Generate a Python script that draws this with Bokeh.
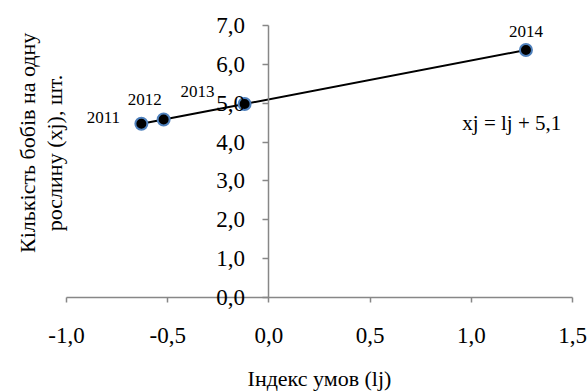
import math
from bokeh.plotting import figure
from bokeh.models import (ColumnDataSource, LabelSet, Label, FixedTicker,
                          CustomJSTickFormatter, Range1d)
from bokeh.embed import file_html
from bokeh.resources import INLINE

# ---- data ----
years = ["2011", "2012", "2013", "2014"]
lj = [-0.63, -0.52, -0.12, 1.27]      # Індекс умов
xj = [4.47, 4.58, 4.98, 6.37]         # Кількість бобів на одну рослину
x_ticks = [-1.0, -0.5, 0.0, 0.5, 1.0, 1.5]
y_ticks = [0, 1, 2, 3, 4, 5, 6, 7]
equation = "xj = lj + 5,1"
x_title = "Індекс умов (lj)"
y_title_lines = ["Кількість бобів на одну", "рослину (хj), шт."]

# label placement (pixels, relative to each point)
label_dx = [-38, -19, -47, 0]
label_dy = [6, 20, 12, 18]

FONT = "'Liberation Serif'"
AXIS_COLOR = "#878787"

# the plot frame covers the whole canvas so that no text is clipped;
# the visible axes are limited with "bounds"
p = figure(width=588, height=392, output_backend="svg", toolbar_location=None,
           x_range=Range1d(-1.326, 1.579), y_range=Range1d(-2.445, 7.643),
           min_border_left=0, min_border_right=0,
           min_border_top=0, min_border_bottom=0,
           background_fill_color="white", border_fill_color="white")
p.title.visible = False
p.grid.visible = False
p.outline_line_color = None

fmt = CustomJSTickFormatter(code="return tick.toFixed(1).replace('.', ',');")

xa = p.xaxis[0]
xa.fixed_location = 0
xa.bounds = (-1.0, 1.5)
xa.ticker = FixedTicker(ticks=x_ticks)
xa.formatter = fmt
xa.axis_line_color = AXIS_COLOR
xa.axis_line_width = 1.5
xa.major_tick_line_color = AXIS_COLOR
xa.major_tick_line_width = 1.5
xa.major_tick_out = 5
xa.major_tick_in = 0
xa.minor_tick_line_color = None
xa.major_label_text_font = FONT
xa.major_label_text_font_size = "23px"
xa.major_label_text_color = "black"
xa.major_label_standoff = 26
xa.axis_label = x_title
xa.axis_label_text_font = FONT
xa.axis_label_text_font_style = "normal"
xa.axis_label_text_font_size = "22px"
xa.axis_label_text_color = "black"
xa.axis_label_standoff = 19

ya = p.yaxis[0]
ya.fixed_location = 0
ya.bounds = (0, 7)
ya.ticker = FixedTicker(ticks=y_ticks)
ya.formatter = fmt
ya.axis_line_color = AXIS_COLOR
ya.axis_line_width = 1.5
ya.major_tick_line_color = AXIS_COLOR
ya.major_tick_line_width = 1.5
ya.major_tick_out = 6
ya.major_tick_in = 0
ya.minor_tick_line_color = None
ya.major_label_text_font = FONT
ya.major_label_text_font_size = "23px"
ya.major_label_text_color = "black"
ya.major_label_standoff = 18

src = ColumnDataSource(dict(lj=lj, xj=xj, year=years, dx=label_dx, dy=label_dy))

p.line("lj", "xj", source=src, line_color="black", line_width=2)
p.scatter("lj", "xj", source=src, size=12, fill_color="black",
          line_color="#4F81BD", line_width=2)

p.add_layout(LabelSet(x="lj", y="xj", text="year", source=src,
                      x_offset="dx", y_offset="dy",
                      text_align="center", text_baseline="middle",
                      text_font=FONT, text_font_size="17px",
                      text_color="black"))

p.add_layout(Label(x=1.2, y=4.5, text=equation, text_align="center",
                   text_baseline="middle", text_font=FONT,
                   text_font_size="21px", text_color="black"))

# y-axis title, two rotated lines left of the plot
for line, lx, ly in [(y_title_lines[0], -1.193, 3.98),
                     (y_title_lines[1], -1.059, 3.72)]:
    p.add_layout(Label(x=lx, y=ly, text=line, angle=math.pi / 2,
                       text_align="center", text_baseline="middle",
                       text_font=FONT, text_font_size="22px",
                       text_color="black"))

open("out.html", "w").write(file_html(p, INLINE))
